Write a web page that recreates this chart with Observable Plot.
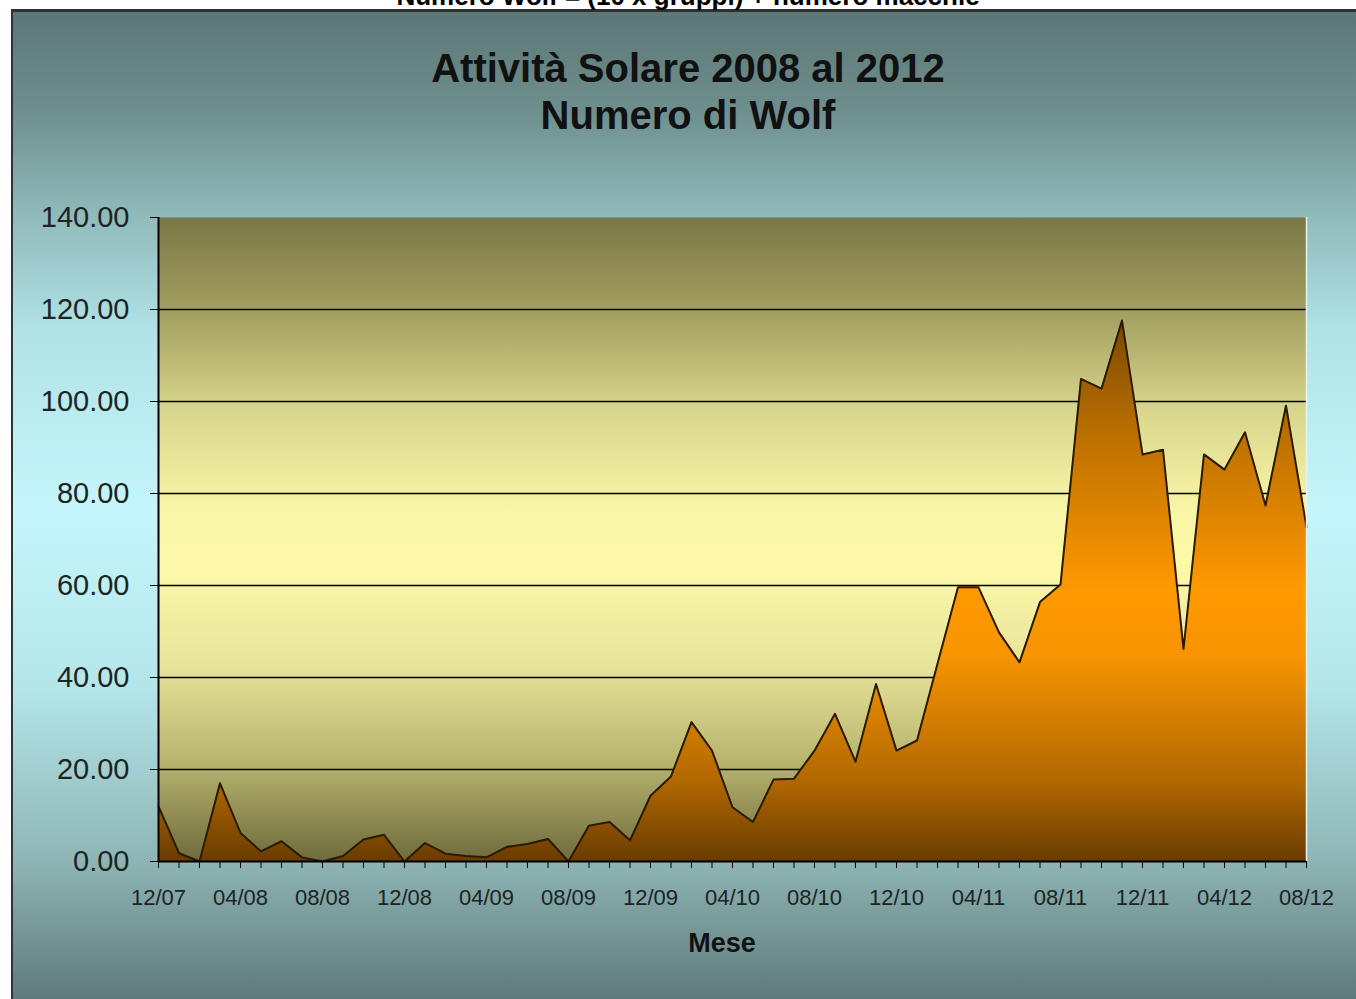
<!DOCTYPE html>
<html>
<head>
<meta charset="utf-8">
<script src="https://cdn.jsdelivr.net/npm/d3@7"></script>
<script src="https://cdn.jsdelivr.net/npm/@observablehq/plot@0.6"></script>
<style>
  html, body { margin: 0; padding: 0; background: #ffffff; width: 1356px; height: 999px; overflow: hidden; }
  body { position: relative; font-family: Arial, "Liberation Sans", sans-serif; }
  #box {
    position: absolute; left: 11px; top: 9px; width: 1350px; height: 995px;
    border-left: 2px solid #2e3335; border-top: 3px solid #2b3033;
    background: linear-gradient(to bottom, #5c7775 0%, #6e8f8e 10%, #8fb8b9 20%, #b0e2e6 32%, #c4f6fb 50%, #b3e5e9 68%, #8fb6b6 85%, #5c7775 100%);
  }
  .t { position: absolute; left: 0; width: 1376px; text-align: center; font-weight: bold; line-height: 1; color: #111; white-space: nowrap; }
  #chart { position: absolute; left: 0; top: 0; }
</style>
</head>
<body>
<div id="box"></div>
<div class="t" id="toptext" style="top:-17px; font-size:26px; color:#000;">Numero Wolf = (10 x gruppi) + numero macchie</div>
<div class="t" style="top:48px; font-size:40px;">Attività Solare 2008 al 2012</div>
<div class="t" style="top:95px; font-size:40px;">Numero di Wolf</div>
<div class="t" style="top:930px; font-size:27px; left:0; width:1444px;">Mese</div>
<div id="chart"></div>
<script>
// ---- data ----
const months = ["12/07","01/08","02/08","03/08","04/08","05/08","06/08","07/08","08/08","09/08","10/08","11/08",
  "12/08","01/09","02/09","03/09","04/09","05/09","06/09","07/09","08/09","09/09","10/09","11/09",
  "12/09","01/10","02/10","03/10","04/10","05/10","06/10","07/10","08/10","09/10","10/10","11/10",
  "12/10","01/11","02/11","03/11","04/11","05/11","06/11","07/11","08/11","09/11","10/11","11/11",
  "12/11","01/12","02/12","03/12","04/12","05/12","06/12","07/12","08/12"];
const wolf = [12.0, 1.8, 0, 17.0, 6.2, 2.2, 4.4, 0.9, 0, 1.2, 4.8, 5.8,
  0, 4.0, 1.7, 1.2, 0.9, 3.2, 3.8, 4.9, 0, 7.8, 8.6, 4.6,
  14.3, 18.5, 30.3, 24.1, 11.8, 8.6, 17.8, 18.0, 24.1, 32.1, 21.7, 38.6,
  24.1, 26.3, 43.0, 59.6, 59.6, 49.8, 43.3, 56.4, 60.2, 104.9, 102.8, 117.6,
  88.5, 89.5, 46.2, 88.5, 85.2, 93.3, 77.4, 99.1, 72.7];
const xLabels = ["12/07","04/08","08/08","12/08","04/09","08/09","12/09","04/10","08/10","12/10","04/11","08/11","12/11","04/12","08/12"];
const yTicks = [0, 20, 40, 60, 80, 100, 120, 140];
const gridValues = [20, 40, 60, 80, 100, 120];

const data = months.map((m, i) => ({month: m, value: wolf[i]}));

const chart = Plot.plot({
  width: 1356,
  height: 999,
  marginLeft: 158,
  marginRight: 50,
  marginTop: 217,
  marginBottom: 138,
  x: {type: "point", domain: months, padding: 0, round: false},
  y: {domain: [0, 140]},
  style: {background: "transparent", fontFamily: "Arial, 'Liberation Sans', sans-serif", color: "#000"},
  marks: [
    Plot.frame({fill: "url(#plotBg)", stroke: "none"}),
    Plot.ruleY(gridValues, {stroke: "#000", strokeWidth: 1.6}),
    Plot.areaY(data, {x: "month", y: "value", fill: "url(#areaGrad)"}),
    Plot.lineY(data, {x: "month", y: "value", stroke: "#2a1a00", strokeWidth: 2}),
    Plot.ruleX([months[months.length - 1]], {stroke: "#e9f3ee", strokeWidth: 1.5}),
    Plot.ruleY([0], {stroke: "#000", strokeWidth: 2}),
    Plot.ruleX([months[0]], {stroke: "#000", strokeWidth: 2}),
    Plot.axisY({ticks: yTicks, tickSize: 8, tickPadding: 21, tickFormat: d => d.toFixed(2), fontSize: 29, label: null, fill: "#1c2424"}),
    Plot.axisX({ticks: months, tickSize: 7, tickPadding: 21, tickFormat: d => xLabels.includes(d) ? d : "", fontSize: 22, label: null, fill: "#1c2424"})
  ]
});

const defs = d3.select(chart).insert("defs", ":first-child");
function grad(id, stops) {
  const g = defs.append("linearGradient").attr("id", id).attr("x1", 0).attr("y1", 0).attr("x2", 0).attr("y2", 1);
  stops.forEach(([o, c]) => g.append("stop").attr("offset", o).attr("stop-color", c));
}
grad("plotBg", [[0, "#7b7746"], [0.15, "#a4a060"], [0.3, "#d9d68d"], [0.45, "#f8f5a6"], [0.55, "#fdf9a8"], [0.7, "#e6e299"], [0.85, "#b6b26d"], [1, "#6e6a3c"]]);
grad("areaGrad", [[0, "#7a4800"], [0.2, "#b86e00"], [0.5, "#ff9900"], [0.62, "#f79400"], [0.85, "#b26800"], [1, "#6a3c00"]]);

d3.select(chart).selectAll('[aria-label="y-axis tick label"] text, [aria-label="y-axis tick label"]').style("font-size", "29px");
d3.select(chart).selectAll('[aria-label="x-axis tick label"] text, [aria-label="x-axis tick label"]').style("font-size", "22px");

document.getElementById("chart").appendChild(chart);
</script>
</body>
</html>
